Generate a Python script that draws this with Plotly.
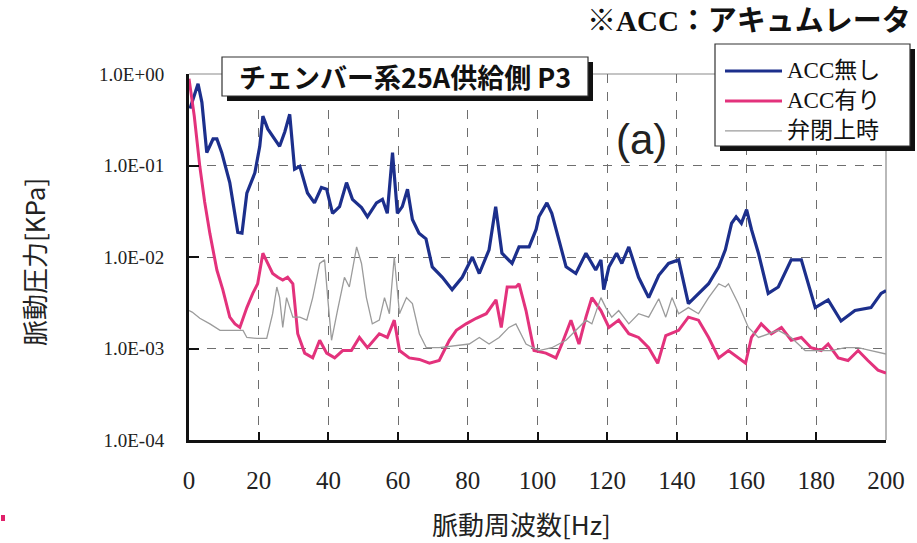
import plotly.graph_objects as go

# ---------------- data ----------------
freq_no_acc = [0.3, 2.6, 3.7, 5.1, 6.9, 8.0, 9.4, 11.7, 14.0, 15.2, 16.6, 18.9, 20.3, 21.2, 22.6, 24.0,
               26.0, 27.5, 28.9, 30.3, 31.8, 34.0, 36.0, 38.0, 39.5, 41.2, 43.2, 45.2, 46.9, 49.5, 51.2,
               53.8, 55.5, 56.9, 58.4, 59.8, 61.2, 62.7, 64.1, 66.0, 68.0, 69.8, 72.7, 75.5, 78.4, 81.3,
               83.3, 86.1, 88.0, 89.8, 92.7, 94.7, 97.6, 99.6, 100.4, 102.7, 104.1, 106.2, 108.2, 111.0,
               113.9, 116.7, 118.2, 119.0, 120.5, 122.7, 124.2, 126.2, 129.0, 131.9, 134.8, 137.6, 140.5,
               143.3, 146.2, 149.1, 152.0, 153.9, 155.7, 157.0, 158.5, 160.0, 161.4, 163.4, 166.2, 169.1,
               172.8, 175.7, 179.7, 183.4, 187.1, 191.1, 195.7, 198.6, 200.0]
p_no_acc = [0.42, 0.78, 0.49, 0.138, 0.195, 0.195, 0.138, 0.065, 0.0186, 0.0182, 0.050, 0.083, 0.162,
            0.347, 0.251, 0.209, 0.162, 0.234, 0.363, 0.091, 0.098, 0.050, 0.039, 0.0575, 0.055, 0.030,
            0.0355, 0.065, 0.0427, 0.0347, 0.0275, 0.039, 0.0427, 0.030, 0.138, 0.030, 0.0355, 0.055,
            0.0257, 0.0182, 0.0158, 0.0078, 0.0060, 0.0044, 0.0060, 0.0100, 0.0066, 0.012, 0.0355, 0.011,
            0.0085, 0.0129, 0.0129, 0.020, 0.0275, 0.039, 0.030, 0.0151, 0.0078, 0.0066, 0.011, 0.0072,
            0.0093, 0.0044, 0.0078, 0.011, 0.0085, 0.0129, 0.0060, 0.0036, 0.0063, 0.0085, 0.0093, 0.0031,
            0.0040, 0.0051, 0.0078, 0.012, 0.0234, 0.0275, 0.0234, 0.033, 0.020, 0.011, 0.0040, 0.0047,
            0.0093, 0.0093, 0.0028, 0.0034, 0.0020, 0.0026, 0.0028, 0.0040, 0.0043]

freq_acc = [0.0, 1.5, 3.1, 4.5, 6.0, 8.0, 9.7, 11.7, 13.2, 14.6, 16.6, 18.3, 19.7, 21.2, 22.6, 24.0, 25.5,
            26.9, 28.3, 29.8, 31.2, 33.2, 35.5, 37.5, 39.5, 41.8, 44.1, 46.6, 48.9, 51.2, 54.6, 56.9, 58.9,
            60.4, 63.2, 66.1, 69.0, 71.8, 74.7, 76.7, 79.5, 82.4, 85.3, 88.1, 89.6, 91.3, 93.8, 94.7, 96.7,
            99.0, 102.4, 105.3, 107.0, 109.6, 111.9, 113.9, 115.6, 118.2, 120.5, 123.3, 126.2, 129.0,
            131.9, 134.5, 136.8, 140.5, 143.3, 146.2, 149.1, 152.0, 154.8, 157.6, 159.7, 161.4, 164.2,
            167.1, 170.0, 172.8, 175.7, 178.5, 181.4, 183.4, 186.3, 189.1, 192.0, 194.8, 197.7, 200.0]
p_acc = [0.89, 0.35, 0.098, 0.040, 0.018, 0.0072, 0.0044, 0.0022, 0.00186, 0.0017, 0.0028, 0.0040, 0.0051,
         0.011, 0.0085, 0.0066, 0.0060, 0.0056, 0.0060, 0.0051, 0.00145, 0.00089, 0.00079, 0.00123, 0.00089,
         0.00079, 0.00095, 0.00095, 0.00132, 0.00102, 0.00145, 0.00132, 0.00204, 0.00095, 0.00079, 0.00076,
         0.00069, 0.00074, 0.00123, 0.00158, 0.00186, 0.00214, 0.0024, 0.0034, 0.0017, 0.0047, 0.0047,
         0.0051, 0.0026, 0.00095, 0.00089, 0.00079, 0.00112, 0.00204, 0.00112, 0.0022, 0.0036, 0.0026,
         0.0017, 0.00204, 0.00145, 0.00132, 0.00102, 0.00069, 0.00138, 0.00158, 0.0022, 0.00204, 0.00132,
         0.00079, 0.00095, 0.00079, 0.00069, 0.00132, 0.00186, 0.00145, 0.0017, 0.00123, 0.00132, 0.00102,
         0.00095, 0.00112, 0.00079, 0.00074, 0.00095, 0.00074, 0.00058, 0.00054]

freq_closed = [0.0, 0.9, 3.1, 6.0, 8.9, 12.6, 15.5, 16.6, 19.5, 22.3, 24.0, 25.2, 26.0, 26.9, 28.0, 29.8,
               31.8, 33.8, 35.5, 37.5, 38.9, 39.8, 40.9, 42.6, 44.6, 46.0, 48.1, 49.5, 50.9, 52.6, 54.6,
               56.1, 57.5, 58.9, 60.4, 62.4, 64.1, 66.1, 68.1, 71.8, 75.5, 80.4, 83.3, 86.1, 89.0, 91.8,
               93.8, 96.7, 100.4, 104.1, 108.2, 111.0, 113.9, 115.6, 118.2, 119.6, 121.3, 123.3, 126.2,
               129.0, 131.9, 134.8, 136.8, 138.6, 140.5, 143.3, 146.2, 149.1, 152.0, 153.9, 154.8, 157.6,
               160.5, 163.4, 166.2, 169.1, 172.8, 176.8, 180.5, 184.3, 188.3, 192.0, 195.7, 200.0]
p_closed = [0.0026, 0.0025, 0.00214, 0.00186, 0.00158, 0.00158, 0.00158, 0.00132, 0.00129, 0.00129, 0.0024,
            0.0047, 0.0036, 0.0017, 0.0036, 0.0022, 0.0022, 0.00204, 0.0036, 0.0085, 0.0093, 0.0036,
            0.00123, 0.0026, 0.0060, 0.0047, 0.0129, 0.0085, 0.0036, 0.00186, 0.00204, 0.0036, 0.0024,
            0.0100, 0.0024, 0.0036, 0.0031, 0.00145, 0.00102, 0.00102, 0.00107, 0.00112, 0.00132, 0.00112,
            0.00132, 0.0017, 0.00186, 0.00112, 0.00095, 0.00102, 0.00123, 0.00158, 0.00204, 0.00186,
            0.0036, 0.0028, 0.0022, 0.0026, 0.00186, 0.0024, 0.0022, 0.0035, 0.0022, 0.0036, 0.0024,
            0.0028, 0.0024, 0.0036, 0.0051, 0.0047, 0.0051, 0.0031, 0.0017, 0.00132, 0.00145, 0.00158,
            0.00132, 0.00095, 0.00095, 0.00095, 0.00102, 0.00102, 0.00095, 0.00087]

x_ticks = [0, 20, 40, 60, 80, 100, 120, 140, 160, 180, 200]
y_ticks = [1e-4, 1e-3, 1e-2, 1e-1, 1e0]
y_tick_labels = ["1.0E-04", "1.0E-03", "1.0E-02", "1.0E-01", "1.0E+00"]

series_names = ["ACC無し", "ACC有り", "弁閉上時"]
series_colors = ["#1c2f8c", "#e3327c", "#9b9b9b"]
series_widths = [3.2, 3, 1.3]

# ---------------- layout helpers (pixel -> paper) ----------------
W, H = 917, 543
L, R, T, B = 189, 31, 74, 103
PW, PH = W - L - R, H - T - B


def fx(px):
    return (px - L) / PW


def fy(py):
    return (H - B - py) / PH


SERIF = "Liberation Serif, Noto Sans CJK JP, serif"
GOTHIC = "Noto Sans CJK JP, sans-serif"

fig = go.Figure()
for xs, ys, name, col, w in zip([freq_no_acc, freq_acc, freq_closed],
                                [p_no_acc, p_acc, p_closed],
                                series_names, series_colors, series_widths):
    fig.add_trace(go.Scatter(x=xs, y=ys, mode="lines", name=name,
                             line=dict(color=col, width=w), showlegend=False))

shapes = []
annotations = []

# thin top / right frame
shapes.append(dict(type="line", xref="paper", yref="paper", x0=0, x1=1, y0=1, y1=1,
                   line=dict(color="#8a8a8a", width=1.2), layer="below"))
shapes.append(dict(type="line", xref="paper", yref="paper", x0=1, x1=1, y0=0, y1=1,
                   line=dict(color="#8a8a8a", width=1.2), layer="below"))

# title box with shadow
shapes.append(dict(type="rect", xref="paper", yref="paper", x0=fx(227), x1=fx(593), y0=fy(101), y1=fy(62),
                   fillcolor="#111", line=dict(width=0)))
shapes.append(dict(type="rect", xref="paper", yref="paper", x0=fx(222), x1=fx(588), y0=fy(96), y1=fy(57),
                   fillcolor="white", line=dict(color="#333", width=1.2)))
annotations.append(dict(text="<b>チェンバー系25A供給側 P3</b>", xref="paper", yref="paper",
                        x=fx(405), y=fy(76), showarrow=False, xanchor="center", yanchor="middle",
                        font=dict(family=GOTHIC, size=27, color="#111")))

# legend box with shadow
LEG_FONT = 23
LEG_STEP = LEG_FONT * 1.3
LEG_TOP_ROW = 71
shapes.append(dict(type="rect", xref="paper", yref="paper", x0=fx(720), x1=fx(915), y0=fy(151), y1=fy(49),
                   fillcolor="#111", line=dict(width=0)))
shapes.append(dict(type="rect", xref="paper", yref="paper", x0=fx(715), x1=fx(910), y0=fy(146), y1=fy(44),
                   fillcolor="white", line=dict(color="#333", width=1.2)))
for i, (col, w) in enumerate(zip(series_colors, series_widths)):
    yy = LEG_TOP_ROW + i * LEG_STEP
    shapes.append(dict(type="line", xref="paper", yref="paper", x0=fx(725), x1=fx(782), y0=fy(yy), y1=fy(yy),
                       line=dict(color=col, width=w)))
annotations.append(dict(text="<br>".join(series_names), xref="paper", yref="paper", x=fx(785),
                        y=fy(LEG_TOP_ROW + LEG_STEP), showarrow=False, xanchor="left", yanchor="middle",
                        align="left", font=dict(family=SERIF, size=LEG_FONT, color="#111")))

# (a)
annotations.append(dict(text="(a)", xref="paper", yref="paper", x=fx(641), y=fy(139), showarrow=False,
                        xanchor="center", yanchor="middle",
                        font=dict(family="Liberation Sans, Arial, sans-serif", size=42, color="#222")))

# note top right
annotations.append(dict(text="<b>※ACC：アキュムレータ</b>", xref="paper", yref="paper", x=fx(913), y=fy(21),
                        showarrow=False, xanchor="right", yanchor="middle",
                        font=dict(family=SERIF, size=29, color="#111")))

# axis titles
annotations.append(dict(text="脈動圧力[KPa]", xref="paper", yref="paper", x=fx(33), y=fy(262),
                        showarrow=False, textangle=-90, xanchor="center", yanchor="middle",
                        font=dict(family=GOTHIC, size=26, color="#222")))
annotations.append(dict(text="脈動周波数[Hz]", xref="paper", yref="paper", x=fx(521), y=fy(523),
                        showarrow=False, xanchor="center", yanchor="middle",
                        font=dict(family=GOTHIC, size=26, color="#222")))

# small stray mark at bottom-left
shapes.append(dict(type="rect", xref="paper", yref="paper", x0=fx(1), x1=fx(5), y0=fy(521), y1=fy(515),
                   fillcolor="#e0206a", line=dict(width=0)))

fig.update_layout(
    width=W, height=H,
    margin=dict(l=L, r=R, t=T, b=B, pad=0),
    paper_bgcolor="white", plot_bgcolor="white",
    shapes=shapes, annotations=annotations,
    showlegend=False,
)
fig.update_xaxes(range=[0, 200], tickvals=x_ticks, ticks="inside", ticklen=8, tickwidth=2,
                 tickcolor="#111", showline=True, linecolor="#111", linewidth=3,
                 showgrid=True, gridcolor="#6e6e6e", griddash="dash", gridwidth=1.2,
                 zeroline=False, ticklabelstandoff=16,
                 tickfont=dict(family=SERIF, size=25, color="#222"))
fig.update_yaxes(type="log", range=[-4, 0], tickvals=y_ticks, ticktext=y_tick_labels,
                 ticks="inside", ticklen=10, tickwidth=2, tickcolor="#111",
                 showline=True, linecolor="#111", linewidth=3,
                 showgrid=True, gridcolor="#6e6e6e", griddash="dash", gridwidth=1.2,
                 zeroline=False, ticklabelstandoff=18,
                 tickfont=dict(family=SERIF, size=19, color="#222"))

fig.write_html("out.html", config={"displayModeBar": False},
               post_script="document.body.style.margin='0';document.body.style.overflow='hidden';")
